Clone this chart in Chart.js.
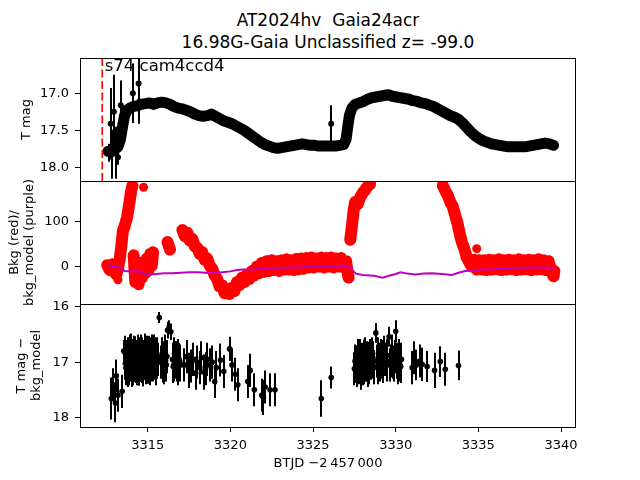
<!DOCTYPE html>
<html><head><meta charset="utf-8">
<script src="https://cdn.jsdelivr.net/npm/chart.js@4.4.1/dist/chart.umd.min.js"></script>
<style>
html,body{margin:0;padding:0;background:#fff;}
#wrap{position:relative;width:640px;height:480px;overflow:hidden;font-family:'DejaVu Sans';}
#title{position:absolute;left:0;top:10px;width:656px;text-align:center;font-size:17px;line-height:21.6px;color:#000;white-space:pre;font-family:'DejaVu Sans';}
canvas{position:absolute;left:0;top:0;}
</style></head>
<body>
<div id="wrap">
<div id="title">AT2024hv  Gaia24acr
16.98G-Gaia Unclassified z= -99.0</div>
<canvas id="c1" width="640" height="480"></canvas>
<canvas id="c2" width="640" height="480"></canvas>
<canvas id="c3" width="640" height="480"></canvas>
</div>
<script>
// ---------- DATA ----------
const xTicks = [3315, 3320, 3325, 3330, 3335, 3340];
const xTickLabels = ['3315', '3320', '3325', '3330', '3335', '3340'];
const y1Ticks = [17.0, 17.5, 18.0];
const y1TickLabels = ['17.0', '17.5', '18.0'];
const y2Ticks = [0, 100];
const y2TickLabels = ['0', '100'];
const y3Ticks = [16, 17, 18];
const y3TickLabels = ['16', '17', '18'];
const sectorDay = 3312.25;
const sectorLabel = 's74 cam4ccd4';

// Panel 1: light curve (dense band) and individual points with error bars
const p1BandDays = [3312.6,3312.8,3313.0,3313.2,3313.35,3313.5,3313.6,3313.75,3313.9,3314.1,3314.35,3314.6,3314.85,3315.1,3315.35,3315.6,3315.85,3316.1,3316.35,3316.6,3316.85,3317.1,3317.35,3317.6,3317.85,3318.1,3318.35,3318.6,3318.85,3319.1,3319.35,3319.6,3319.85,3320.1,3320.35,3320.6,3320.85,3321.1,3321.35,3321.6,3321.85,3322.1,3322.35,3322.6,3322.85,3323.1,3323.35,3323.6,3323.85,3324.1,3324.35,3324.6,3324.85,3325.1,3325.35,3325.6,3325.85,3326.1,3326.35,3326.6,3326.85,3327.0,3327.1,3327.2,3327.35,3327.55,3327.8,3328.05,3328.3,3328.55,3328.8,3329.05,3329.3,3329.55,3329.8,3330.05,3330.3,3330.55,3330.8,3331.05,3331.3,3331.55,3331.8,3332.05,3332.3,3332.55,3332.8,3333.05,3333.3,3333.55,3333.8,3334.05,3334.3,3334.55,3334.8,3335.05,3335.3,3335.55,3335.8,3336.05,3336.3,3336.55,3336.8,3337.05,3337.3,3337.55,3337.8,3338.05,3338.3,3338.55,3338.8,3339.05,3339.3,3339.55];
const p1BandMags = [17.78,17.77,17.75,17.72,17.62,17.42,17.3,17.23,17.2,17.18,17.17,17.15,17.14,17.13,17.15,17.13,17.12,17.13,17.15,17.18,17.2,17.21,17.23,17.25,17.28,17.3,17.31,17.3,17.28,17.31,17.34,17.37,17.39,17.41,17.44,17.47,17.5,17.54,17.58,17.62,17.66,17.69,17.71,17.73,17.74,17.73,17.72,17.71,17.7,17.69,17.68,17.69,17.7,17.7,17.71,17.71,17.71,17.71,17.71,17.7,17.69,17.62,17.45,17.3,17.2,17.15,17.13,17.11,17.08,17.06,17.05,17.04,17.03,17.02,17.04,17.05,17.06,17.07,17.08,17.1,17.11,17.13,17.14,17.16,17.18,17.21,17.24,17.27,17.3,17.32,17.35,17.4,17.46,17.52,17.57,17.61,17.64,17.66,17.68,17.69,17.7,17.71,17.72,17.72,17.72,17.72,17.72,17.71,17.7,17.69,17.68,17.67,17.68,17.7];
const p1PtDays = [3312.65,3312.76,3312.85,3312.95,3313.1,3313.2,3313.37,3314.1,3314.45,3314.5,3326.1];
const p1PtMags = [17.8,17.41,17.82,17.25,17.8,17.86,17.16,17.0,16.87,17.11,17.41];
const p1PtErrs = [0.12,0.48,0.33,0.5,0.35,0.1,0.33,0.4,0.35,0.3,0.25];

// Panel 2: background flux (red, null = gap) and background model (purple)
const redDays = [3312.55,3312.7,3312.85,3313.0,3313.1,3313.2,3313.3,3313.4,3313.5,3313.6,3313.75,3313.9,3314.0,3314.08,null,
 3314.15,3314.25,3314.35,3314.45,3314.55,3314.65,3314.75,3314.85,3314.95,3315.05,3315.15,3315.25,3315.32,null,
 3316.2,3316.35,null,
 3317.1,3317.25,3317.4,3317.55,3317.7,3317.85,3318.0,3318.15,3318.3,3318.45,3318.6,3318.75,3318.9,3319.05,3319.2,3319.35,3319.5,3319.65,3319.8,3319.95,3320.1,3320.25,3320.4,3320.55,3320.7,3320.85,3321.0,3321.15,3321.3,3321.45,3321.6,3321.75,3321.9,3322.05,3322.2,3322.35,3322.5,3322.65,3322.8,3322.95,3323.1,3323.25,3323.4,3323.55,3323.7,3323.85,3324.0,3324.15,3324.3,3324.45,3324.6,3324.75,3324.9,3325.05,3325.2,3325.35,3325.5,3325.65,3325.8,3325.95,3326.1,3326.25,3326.4,3326.55,3326.7,3326.85,3327.0,3327.1,3327.15,null,
 3327.25,3327.35,3327.45,3327.55,3327.7,3327.85,3328.0,3328.15,3328.3,3328.45,null,
 3332.85,3333.0,3333.15,3333.3,3333.45,3333.6,3333.75,3333.9,3334.0,3334.15,3334.3,3334.45,3334.6,3334.75,3334.9,3335.05,3335.2,3335.35,3335.5,3335.65,3335.8,3335.95,3336.1,3336.25,3336.4,3336.55,3336.7,3336.85,3337.0,3337.15,3337.3,3337.45,3337.6,3337.75,3337.9,3338.05,3338.2,3338.35,3338.5,3338.65,3338.8,3338.95,3339.1,3339.25,3339.4,3339.55,3339.6];
const redVals = [3,-8,5,-12,-18,-5,15,45,80,90,110,145,170,182,null,
 25,-35,5,-40,0,-25,10,-15,18,-8,28,2,32,null,
 55,38,null,
 82,68,76,58,62,45,42,28,32,15,18,2,-5,-20,-28,-45,-42,-60,-52,-62,-48,-55,-35,-42,-25,-35,-18,-28,-10,-20,0,-15,8,-12,12,-10,14,-8,12,-10,14,-7,16,-7,14,-8,17,-6,18,-5,19,-2,20,-2,18,0,20,-2,19,0,20,-2,18,0,19,-2,12,-15,-25,null,
 60,90,125,145,140,155,165,172,180,185,null,
 182,170,160,145,135,115,95,70,55,40,20,10,0,15,-7,14,-7,14,-8,15,-7,14,-6,16,-8,14,-7,15,-6,14,-8,16,-7,14,-6,15,-8,14,-7,16,-6,14,-8,12,-10,-22,-10];
const redPtDays = [3313.2,3314.75,3316.25,3327.2,3334.9];
const redPtVals = [-30,178,48,59,40];
const modelDays = [3312.55,3312.9,3313.3,3313.6,3314.0,3314.4,3314.7,3315.0,3315.5,3316.0,3316.5,3317.0,3317.5,3318.0,3318.5,3319.0,3319.5,3320.0,3320.4,3320.8,3321.4,3322.2,3323.0,3323.8,3324.6,3325.4,3326.2,3326.8,3327.1,3327.3,3327.6,3328.0,3328.7,3329.2,3329.6,3330.0,3330.3,3330.7,3331.2,3331.7,3332.2,3332.8,3333.4,3333.8,3334.2,3334.7,3335.2,3335.8,3336.5,3337.2,3337.9,3338.6,3339.2,3339.6];
const modelVals = [2,1,-2,-10,-11,-10,-14,-19,-17,-15,-15,-14,-13,-13,-14,-15,-13,-11,-8,-7,-6,-4,-3,-2,-1,0,0,2,0,-5,-16,-19,-21,-25,-21,-17,-13,-16,-18,-16,-15,-17,-19,-14,-10,-9,-7,-6,-4,-3,-3,-2,-3,-3];

// Panel 3: T mag - bkg_model with error bars
const p3Days = [3312.8,3312.9,3313.05,3313.1,3313.2,3313.45,3313.55,
 3313.62,3313.65,3313.68,3313.71,3313.74,3313.77,3313.8,3313.83,3313.86,3313.89,3313.92,3313.95,3313.98,3314.01,3314.04,3314.07,3314.1,3314.13,3314.16,3314.19,3314.22,3314.25,3314.28,3314.31,3314.34,3314.37,3314.4,3314.43,3314.46,3314.49,3314.52,3314.55,3314.58,3314.61,3314.64,3314.67,3314.7,3314.73,3314.76,3314.79,3314.82,3314.85,3314.88,3314.91,3314.94,3314.97,3315.0,3315.03,3315.06,3315.09,3315.12,3315.15,3315.18,3315.21,3315.24,3315.27,3315.3,3315.33,3315.36,3315.39,3315.42,3315.45,3315.48,3315.51,3315.54,3315.57,3315.6,3315.7,3315.8,3315.84,3315.88,3315.92,3315.96,3316.0,3316.04,3316.08,3316.12,3316.16,3316.2,3316.3,3316.4,3316.5,3316.54,3316.58,3316.62,3316.66,3316.7,3316.74,3316.78,3316.82,3316.86,3316.9,3316.94,3316.98,
 3317.2,3317.35,3317.5,3317.6,3317.75,3317.9,3318.0,3318.15,3318.25,3318.4,3318.5,3318.6,3318.75,3318.9,3319.05,3319.15,3319.4,3319.6,3319.95,3320.1,3320.3,3320.45,3321.05,3321.2,3321.45,3321.9,3322.0,3322.1,3322.4,3322.7,
 3325.5,3326.1,
 3327.5,3327.54,3327.58,3327.62,3327.66,3327.7,3327.74,3327.78,3327.82,3327.86,3327.9,3327.94,3327.98,3328.02,3328.06,3328.1,3328.14,3328.18,3328.22,3328.26,3328.3,3328.34,3328.38,3328.42,3328.46,3328.5,3328.54,3328.58,3328.62,3328.66,3328.7,3328.8,3328.85,3328.9,3328.95,3329.0,3329.05,3329.1,3329.15,3329.2,3329.25,3329.3,3329.35,3329.4,3329.45,3329.5,3329.6,3329.65,3329.7,3329.75,3329.8,3329.85,3329.9,3329.95,3330.0,3330.05,3330.1,3330.15,3330.2,3330.25,3330.3,3330.35,
 3331.0,3331.1,3331.25,3331.45,3331.6,3331.9,3332.35,3332.7,3333.0,3333.8];
const p3Mags = [17.66,17.41,17.74,17.25,17.6,17.53,16.8,
 16.82,17.02,17.1,16.9,16.95,17.08,17.15,16.85,16.88,17.12,17.05,16.8,16.78,17.0,17.12,16.88,16.92,17.1,17.02,16.82,16.85,17.06,17.08,16.9,16.95,17.1,16.8,16.98,17.1,16.85,16.9,17.05,17.0,16.8,16.85,17.08,17.12,16.9,16.95,17.02,16.78,16.88,17.05,17.1,16.9,16.82,17.0,17.08,16.82,16.95,17.1,16.85,16.95,17.05,16.88,16.8,17.05,16.9,16.8,17.02,16.98,16.85,17.1,16.92,16.85,17.0,16.95,16.19,17.0,16.9,16.85,17.05,17.1,16.92,16.8,16.98,17.05,16.9,16.42,16.36,16.45,16.95,17.08,17.05,16.85,16.92,17.0,16.92,17.05,17.1,16.88,16.95,16.98,17.05,
 17.05,16.9,17.15,17.07,16.95,17.2,17.0,17.1,16.92,17.18,17.12,16.95,17.05,17.0,17.35,17.1,16.96,17.17,16.76,17.05,17.22,17.41,17.35,17.15,17.5,17.6,17.64,17.45,17.5,17.5,
 17.66,17.28,
 17.12,16.98,17.0,17.08,17.15,16.95,16.9,17.1,17.05,16.88,17.2,17.02,16.95,17.12,17.1,16.9,16.85,17.05,17.05,16.92,16.95,17.15,17.1,16.9,16.88,17.02,17.0,16.85,16.92,17.1,17.08,16.47,16.98,17.1,16.85,16.95,17.05,16.88,16.9,17.0,17.08,16.82,16.95,16.95,17.05,16.88,16.54,17.05,16.98,16.85,16.8,17.0,17.05,16.9,16.44,16.95,17.0,17.1,16.88,17.05,17.08,16.95,
 17.1,16.92,17.05,16.98,17.04,17.08,17.15,16.99,17.13,17.06];
const p3Errs = [0.38,0.3,0.35,0.3,0.3,0.3,0.2,
 0.3,0.3,0.32,0.3,0.3,0.31,0.3,0.3,0.32,0.3,0.3,0.3,0.3,0.31,0.33,0.3,0.3,0.32,0.3,0.3,0.32,0.3,0.3,0.3,0.3,0.32,0.3,0.3,0.33,0.3,0.3,0.31,0.3,0.3,0.3,0.3,0.32,0.3,0.3,0.31,0.3,0.3,0.33,0.3,0.3,0.3,0.3,0.31,0.3,0.3,0.32,0.3,0.3,0.3,0.3,0.3,0.3,0.3,0.3,0.3,0.3,0.3,0.32,0.3,0.3,0.3,0.3,0.1,0.3,0.3,0.3,0.32,0.3,0.3,0.3,0.3,0.3,0.3,0.15,0.12,0.15,0.3,0.3,0.3,0.3,0.3,0.3,0.3,0.3,0.32,0.3,0.3,0.3,0.3,
 0.3,0.3,0.32,0.3,0.3,0.3,0.3,0.3,0.3,0.32,0.3,0.3,0.3,0.3,0.3,0.3,0.3,0.3,0.22,0.3,0.3,0.3,0.3,0.3,0.3,0.3,0.32,0.3,0.3,0.3,
 0.33,0.2,
 0.3,0.3,0.3,0.3,0.3,0.31,0.32,0.3,0.3,0.3,0.3,0.3,0.3,0.3,0.3,0.31,0.3,0.3,0.3,0.3,0.32,0.3,0.3,0.3,0.3,0.3,0.3,0.3,0.3,0.3,0.3,0.18,0.3,0.3,0.3,0.3,0.3,0.3,0.3,0.3,0.3,0.3,0.3,0.3,0.3,0.3,0.18,0.3,0.3,0.3,0.3,0.3,0.3,0.3,0.2,0.3,0.3,0.3,0.3,0.3,0.3,0.3,
 0.3,0.3,0.28,0.3,0.3,0.28,0.32,0.28,0.3,0.27];

// ---------- HELPERS ----------
const FONT = 'DejaVu Sans';
const X_MIN = 3310.904, X_MAX = 3340.907;
function pts(xs, ys){ return xs.map((x,i)=> x===null ? {x: NaN, y: null} : ({x, y: ys[i]})); }

const boxPlugin = {
  id: 'box',
  afterDraw(chart){
    const {ctx, chartArea: a} = chart;
    ctx.save(); ctx.strokeStyle = '#000'; ctx.lineWidth = 1;
    ctx.strokeRect(Math.round(a.left)+0.5, Math.round(a.top)+0.5, Math.round(a.right-a.left)-1, Math.round(a.bottom-a.top));
    ctx.restore();
  }
};
const errPlugin = {
  id: 'err',
  beforeDatasetsDraw(chart){
    const {ctx, chartArea: a} = chart;
    ctx.save(); ctx.beginPath(); ctx.rect(a.left, a.top, a.right-a.left, a.bottom-a.top); ctx.clip();
    chart.data.datasets.forEach(ds => {
      if (!ds.errors) return;
      const xs = chart.scales.x, ys = chart.scales.y;
      ctx.strokeStyle = '#000'; ctx.lineWidth = 2;
      ds.data.forEach((p, j) => {
        const e = ds.errors[j];
        const px = Math.round(xs.getPixelForValue(p.x));
        ctx.beginPath();
        ctx.moveTo(px, ys.getPixelForValue(p.y - e));
        ctx.lineTo(px, ys.getPixelForValue(p.y + e));
        ctx.stroke();
      });
    });
    ctx.restore();
  }
};
const sectorPlugin = {
  id: 'sector',
  afterDatasetsDraw(chart){
    const {ctx, chartArea: a} = chart;
    const px = chart.scales.x.getPixelForValue(sectorDay);
    ctx.save();
    ctx.strokeStyle = '#ff0000'; ctx.lineWidth = 1.6; ctx.setLineDash([8, 3.5]);
    ctx.beginPath(); ctx.moveTo(px, a.top); ctx.lineTo(px, a.bottom); ctx.stroke();
    ctx.setLineDash([]);
    ctx.fillStyle = '#000'; ctx.font = '16.5px "' + FONT + '"';
    ctx.textBaseline = 'alphabetic'; ctx.textAlign = 'left';
    ctx.fillText(sectorLabel, px + 2.5, a.top + 13);
    ctx.restore();
  }
};

function makeOptions(cfg){
  const tickFont = {family: FONT, size: 13};
  return {
    responsive: false, animation: false, events: [],
    layout: {padding: {left: 0, right: 64, top: cfg.top, bottom: cfg.bottom}},
    plugins: {legend: {display: false}, tooltip: {enabled: false}, title: {display: false}},
    scales: {
      x: {
        type: 'linear', min: X_MIN, max: X_MAX, display: cfg.showX,
        afterBuildTicks: s => { s.ticks = xTicks.map(v => ({value: v})); },
        afterFit: s => { s.height = cfg.showX ? 53 : 0; },
        ticks: {font: tickFont, color: '#000', padding: 6, maxRotation: 0, autoSkip: false,
                callback: v => xTickLabels[xTicks.indexOf(v)]},
        grid: {drawOnChartArea: false, drawTicks: true, tickLength: 5, color: '#000'},
        border: {display: false},
        title: {display: true, text: 'BTJD \u22122\u2009457\u2009000', color: '#000',
                font: {family: FONT, size: 13}, padding: {top: 0, bottom: 9}}
      },
      y: {
        type: 'linear', min: cfg.ymin, max: cfg.ymax, reverse: cfg.reverse,
        afterBuildTicks: s => { s.ticks = cfg.yTicks.map(v => ({value: v})); },
        afterFit: s => { s.width = 80; },
        ticks: {font: tickFont, color: '#000', padding: 6, autoSkip: false,
                callback: v => cfg.yLabels[cfg.yTicks.indexOf(v)]},
        grid: {drawOnChartArea: false, drawTicks: true, tickLength: 5, color: '#000'},
        border: {display: false},
        title: {display: true, text: cfg.ytitle, color: '#000',
                font: {family: FONT, size: 13, lineHeight: 1.15}, padding: {top: cfg.titlePad, bottom: 0}}
      }
    }
  };
}

// ---------- PANEL 1 ----------
new Chart(document.getElementById('c1'), {
  type: 'scatter',
  data: {datasets: [
    {data: pts(p1PtDays, p1PtMags), errors: p1PtErrs, backgroundColor: '#000', borderColor: '#000',
     pointRadius: 3, pointBorderWidth: 0, order: 0, clip: 0},
    {data: pts(p1BandDays, p1BandMags), showLine: true, borderColor: '#000', borderWidth: 11,
     borderCapStyle: 'round', borderJoinStyle: 'round', pointRadius: 0, order: 1, clip: 0}
  ]},
  options: makeOptions({top: 58, bottom: 299, showX: false, ymin: 16.526, ymax: 18.179, reverse: true,
    yTicks: y1Ticks, yLabels: y1TickLabels, ytitle: 'T mag', titlePad: 19.5}),
  plugins: [errPlugin, sectorPlugin, boxPlugin]
});

// ---------- PANEL 2 ----------
new Chart(document.getElementById('c2'), {
  type: 'scatter',
  data: {datasets: [
    {data: pts(modelDays, modelVals), showLine: true, borderColor: '#bf00bf', borderWidth: 2,
     pointRadius: 0, order: 0, clip: 0},
    {data: pts(redPtDays, redPtVals), backgroundColor: '#ff0000', pointRadius: 4.5, pointBorderWidth: 0,
     order: 1, clip: 0},
    {data: pts(redDays, redVals), showLine: true, spanGaps: false, borderColor: '#ff0000', borderWidth: 12,
     borderCapStyle: 'round', borderJoinStyle: 'round', pointRadius: 0, order: 2, clip: 0}
  ]},
  options: makeOptions({top: 181, bottom: 176, showX: false, ymin: -84.3, ymax: 192.1, reverse: false,
    yTicks: y2Ticks, yLabels: y2TickLabels, ytitle: ['Bkg (red)/', 'bkg_model (purple)'], titlePad: 7.5}),
  plugins: [boxPlugin]
});

// ---------- PANEL 3 ----------
new Chart(document.getElementById('c3'), {
  type: 'scatter',
  data: {datasets: [
    {data: pts(p3Days, p3Mags), errors: p3Errs, backgroundColor: '#000', borderColor: '#000',
     pointRadius: 2.8, pointBorderWidth: 0, order: 0, clip: 0}
  ]},
  options: makeOptions({top: 304, bottom: 0, showX: true, ymin: 15.946, ymax: 18.176, reverse: true,
    yTicks: y3Ticks, yLabels: y3TickLabels, ytitle: ['T mag \u2212', 'bkg_model'], titlePad: 14.5}),
  plugins: [errPlugin, boxPlugin]
});
</script>
</body></html>
